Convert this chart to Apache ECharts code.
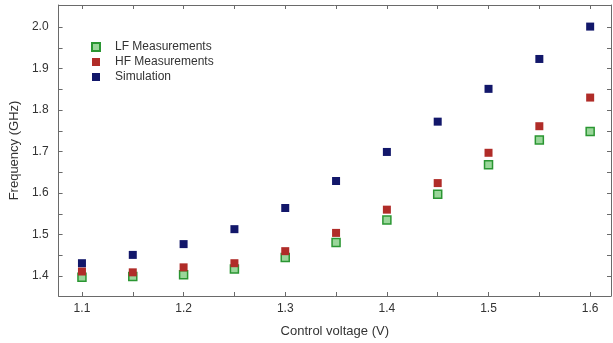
<!DOCTYPE html>
<html>
<head>
<meta charset="utf-8">
<script src="https://cdn.jsdelivr.net/npm/echarts@6/dist/echarts.min.js"></script>
<style>
  html, body { margin: 0; padding: 0; background: #fff; }
  #chart { width: 613px; height: 343px; }
</style>
</head>
<body>
<div id="chart"></div>
<script>
// Control voltage (V)
const voltages = [1.1, 1.15, 1.2, 1.25, 1.3, 1.35, 1.4, 1.45, 1.5, 1.55, 1.6];
// Frequency (GHz)
const lfMeasurements = [1.397, 1.399, 1.403, 1.417, 1.445, 1.481, 1.535, 1.597, 1.668, 1.728, 1.748];
const hfMeasurements = [1.411, 1.409, 1.421, 1.431, 1.460, 1.504, 1.560, 1.624, 1.697, 1.761, 1.830];
const simulation     = [1.431, 1.451, 1.477, 1.513, 1.564, 1.629, 1.699, 1.772, 1.851, 1.923, 2.001];

const xTickLabels = [1.1, 1.2, 1.3, 1.4, 1.5, 1.6];
const xTicks = [1.1, 1.15, 1.2, 1.25, 1.3, 1.35, 1.4, 1.45, 1.5, 1.55, 1.6];
const yTickLabels = [1.4, 1.5, 1.6, 1.7, 1.8, 1.9, 2.0];
const yTicks = [1.4, 1.45, 1.5, 1.55, 1.6, 1.65, 1.7, 1.75, 1.8, 1.85, 1.9, 1.95, 2.0];

const X_MIN = 1.077, X_MAX = 1.6205;
const Y_MIN = 1.352, Y_MAX = 2.053;

const font = 'Liberation Sans, Arial, sans-serif';
const axisColor = '#6a6a6a';

function pairs(ys) { return voltages.map((v, i) => [v, ys[i]]); }

function baseAxis(extra) {
  return Object.assign({
    type: 'value',
    axisLine: { show: true, lineStyle: { color: axisColor, width: 1 } },
    splitLine: { show: false },
    axisTick: { show: true, inside: true, length: 4, lineStyle: { color: axisColor } },
  }, extra);
}

const chart = echarts.init(document.getElementById('chart'));
chart.setOption({
  animation: false,
  backgroundColor: '#fff',
  grid: { left: 55, right: 2, top: 5, bottom: 45 },
  legend: {
    orient: 'vertical',
    left: 86, top: 36,
    itemWidth: 8, itemHeight: 8, itemGap: 3,
    textStyle: { fontFamily: font, fontSize: 12, color: '#333', padding: [0, 0, 0, 10] },
    data: ['LF Measurements', 'HF Measurements', 'Simulation']
  },
  xAxis: [
    baseAxis({
      position: 'bottom', min: X_MIN, max: X_MAX,
      name: 'Control voltage (V)', nameLocation: 'middle', nameGap: 29,
      nameTextStyle: { fontFamily: font, fontSize: 13, color: '#333' },
      axisTick: { show: true, inside: true, length: 4, customValues: xTicks, lineStyle: { color: axisColor } },
      axisLabel: { customValues: xTickLabels, margin: 7, fontFamily: font, fontSize: 12, color: '#333',
                   formatter: v => Number(v).toFixed(1) }
    }),
    baseAxis({
      position: 'top', min: X_MIN, max: X_MAX,
      axisTick: { show: true, inside: true, length: 4, customValues: xTicks, lineStyle: { color: axisColor } },
      axisLabel: { show: false }
    })
  ],
  yAxis: [
    baseAxis({
      position: 'left', min: Y_MIN, max: Y_MAX,
      name: 'Frequency (GHz)', nameLocation: 'middle', nameGap: 37,
      nameTextStyle: { fontFamily: font, fontSize: 13, color: '#333' },
      axisTick: { show: true, inside: true, length: 4, customValues: yTicks, lineStyle: { color: axisColor } },
      axisLabel: { customValues: yTickLabels, margin: 10, fontFamily: font, fontSize: 12, color: '#333',
                   formatter: v => Number(v).toFixed(1) }
    }),
    baseAxis({
      position: 'right', min: Y_MIN, max: Y_MAX,
      axisTick: { show: true, inside: true, length: 4, customValues: yTicks, lineStyle: { color: axisColor } },
      axisLabel: { show: false }
    })
  ],
  series: [
    {
      name: 'LF Measurements', type: 'scatter', symbol: 'rect', symbolSize: 8,
      itemStyle: { color: '#9ad69a', borderColor: '#2a9632', borderWidth: 1.5, opacity: 1 },
      data: pairs(lfMeasurements), z: 2
    },
    {
      name: 'HF Measurements', type: 'scatter', symbol: 'rect', symbolSize: 8,
      itemStyle: { color: '#b02c28', opacity: 1 },
      data: pairs(hfMeasurements), z: 3
    },
    {
      name: 'Simulation', type: 'scatter', symbol: 'rect', symbolSize: 8,
      itemStyle: { color: '#12176a', opacity: 1 },
      data: pairs(simulation), z: 4
    }
  ]
});
</script>
</body>
</html>
